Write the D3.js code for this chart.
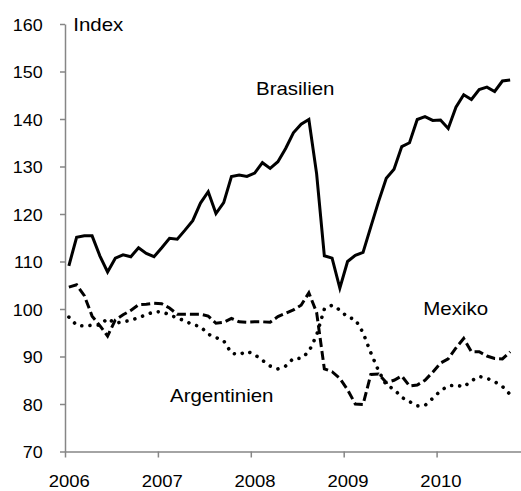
<!DOCTYPE html>
<html>
<head>
<meta charset="utf-8">
<script src="https://cdn.jsdelivr.net/npm/d3@7"></script>
<style>
  html, body { margin: 0; padding: 0; background: #fff; }
  svg { display: block; }
  text { font-family: "Liberation Sans", Arial, sans-serif; fill: #000; }
</style>
</head>
<body>
<svg id="chart" width="521" height="491"></svg>
<script>
// ---- data (monthly, Jan 2006 – Oct 2010) ----
const startYear = 2006;
const yearLabels = ["2006", "2007", "2008", "2009", "2010"];
const yTicks = [70, 80, 90, 100, 110, 120, 130, 140, 150, 160];

const brasilien = [109.1,115.1,115.4,115.4,111.2,107.8,110.7,111.4,111.0,112.9,
                   111.7,111.0,112.9,114.9,114.7,116.6,118.6,122.3,124.7,120.1,
                   122.4,127.9,128.2,127.9,128.6,130.8,129.6,131.0,133.8,137.1,
                   138.9,139.9,128.5,111.2,110.7,104.4,110.0,111.3,111.9,117.3,
                   122.6,127.5,129.4,134.2,135.0,139.9,140.5,139.7,139.8,138.0,
                   142.5,145.1,144.1,146.2,146.7,145.8,148.0,148.2];
const mexiko = [104.6,105.1,102.8,98.5,96.5,94.3,97.7,98.8,99.7,100.9,
                101.0,101.2,101.1,100.2,98.9,98.9,98.9,98.9,98.5,97.0,
                97.2,98.0,97.3,97.2,97.3,97.3,97.2,98.4,99.1,99.8,
                100.8,103.4,99.3,87.4,86.8,85.4,83.0,80.0,79.9,86.2,
                86.3,84.5,85.0,85.9,83.8,84.0,85.0,86.7,88.6,89.5,
                91.8,93.8,91.0,91.0,90.1,89.6,89.5,91.0];
const argentinien = [98.3,96.6,96.4,96.6,96.6,98.0,97.0,97.3,97.6,98.2,
                     98.8,99.4,99.4,98.8,98.1,97.5,96.7,96.3,94.7,94.0,
                     93.3,90.7,90.4,91.1,90.4,89.2,88.0,87.4,88.0,89.6,
                     89.6,91.0,94.5,100.0,100.8,99.8,98.3,97.8,95.0,90.8,
                     87.0,84.0,83.1,81.4,80.5,79.6,79.7,81.2,82.8,83.8,
                     84.0,83.6,84.9,85.8,85.4,84.7,83.7,82.0];

const seriesLabels = ["Brasilien", "Mexiko", "Argentinien"];

// ---- layout ----
const svg = d3.select("#chart");
const axisColor = "#868686";
const SX = 1.1; // horizontal stretch of the glyphs

const x = d3.scaleLinear().domain([0, 60]).range([65, 529.5]);
const y = d3.scaleLinear().domain([70, 160]).range([451.5, 24]);

// y axis
const gy = svg.append("g").attr("transform", `translate(${x(0)},0)`)
  .call(d3.axisLeft(y).tickValues(yTicks).tickSize(5).tickSizeOuter(0).tickPadding(0));
gy.select(".domain").attr("stroke", axisColor).attr("stroke-width", 1.5);
gy.selectAll(".tick line").attr("stroke", axisColor).attr("stroke-width", 1.5);
gy.selectAll(".tick text")
  .attr("x", null).attr("dy", null)
  .attr("transform", `translate(-22.3,6) scale(${SX},1)`)
  .style("font-size", "16.3px")
  .attr("fill", "#000");

// x axis
const gx = svg.append("g").attr("transform", `translate(0,${y(70)})`)
  .call(d3.axisBottom(x).tickValues(yearLabels.map((d, i) => i * 12))
    .tickFormat((d, i) => yearLabels[i]).tickSize(6).tickSizeOuter(0).tickPadding(0));
gx.select(".domain").attr("stroke", axisColor).attr("stroke-width", 1.5);
gx.selectAll(".tick line").attr("stroke", axisColor).attr("stroke-width", 1.5);
gx.selectAll(".tick text")
  .attr("y", null).attr("dy", null)
  .attr("transform", `translate(3.8,35.5) scale(${SX},1)`)
  .style("font-size", "16.8px")
  .attr("fill", "#000");

// lines
const line = d3.line().x((d, i) => x(i + 0.5)).y(d => y(d));

svg.append("path").datum(brasilien).attr("d", line)
  .attr("fill", "none").attr("stroke", "#000").attr("stroke-width", 3)
  .attr("stroke-linejoin", "miter");

svg.append("path").datum(mexiko).attr("d", line)
  .attr("fill", "none").attr("stroke", "#000").attr("stroke-width", 3)
  .attr("stroke-dasharray", "9,4");

svg.append("path").datum(argentinien).attr("d", line)
  .attr("fill", "none").attr("stroke", "#000").attr("stroke-width", 3.6)
  .attr("stroke-linecap", "round").attr("stroke-dasharray", "0.01,8.2");

// labels
function label(txt, px, py, size) {
  svg.append("text")
    .attr("transform", `translate(${px},${py}) scale(${SX},1)`)
    .style("font-size", size + "px")
    .text(txt);
}
label("Index", 73.3, 30.7, 18.6);
label(seriesLabels[0], 256, 95, 18.6);
label(seriesLabels[1], 423.3, 315, 18.6);
label(seriesLabels[2], 170, 401.7, 18.6);
</script>
</body>
</html>
